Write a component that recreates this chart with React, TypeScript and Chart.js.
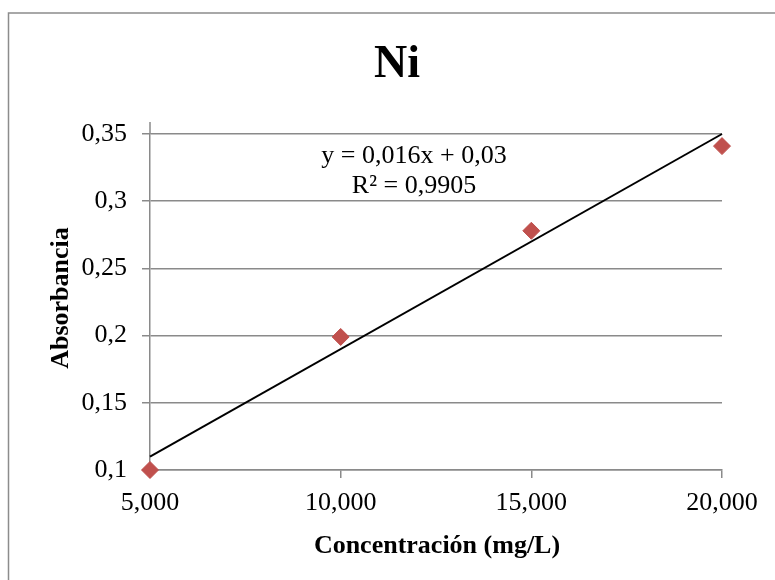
import React, { useEffect, useRef } from "react";
import { Chart, registerables } from "chart.js";

Chart.register(...registerables);

const concentrations = [5, 10, 15, 20];
const absorbances = [0.1, 0.199, 0.278, 0.341];
const trendX = [5, 20];
const trendY = [0.11, 0.35];
const xTickLabels = ["5,000", "10,000", "15,000", "20,000"];
const yTickLabels = ["0,1", "0,15", "0,2", "0,25", "0,3", "0,35"];
const chartTitle = "Ni";
const xTitle = "Concentración (mg/L)";
const yTitle = "Absorbancia";
const equationLines = ["y = 0,016x + 0,03", "R² = 0,9905"];

const FONT = "'Liberation Serif', 'Times New Roman', serif";
const GRID = "#8a8a8a";

const decorations = {
  id: "decorations",
  beforeDraw(chart: any) {
    const { ctx } = chart;
    ctx.save();
    ctx.fillStyle = "#ffffff";
    ctx.fillRect(0, 0, chart.width, chart.height);
    ctx.strokeStyle = "#8c8c8c";
    ctx.lineWidth = 1.5;
    ctx.beginPath();
    ctx.moveTo(8.5, chart.height);
    ctx.lineTo(8.5, 13);
    ctx.lineTo(chart.width, 13);
    ctx.stroke();
    ctx.restore();
  },
  afterDraw(chart: any) {
    const { ctx, chartArea } = chart;
    ctx.save();
    ctx.strokeStyle = GRID;
    ctx.lineWidth = 1.5;
    ctx.beginPath();
    ctx.moveTo(chartArea.left, chartArea.top - 12);
    ctx.lineTo(chartArea.left, chartArea.top);
    ctx.stroke();

    ctx.fillStyle = "#000000";
    ctx.textAlign = "center";
    ctx.textBaseline = "alphabetic";
    ctx.font = `bold 46px ${FONT}`;
    ctx.fillText(chartTitle, 397, 77);

    ctx.font = `bold 26px ${FONT}`;
    ctx.fillText(xTitle, 437, 553);

    ctx.save();
    ctx.translate(68, 298);
    ctx.rotate(-Math.PI / 2);
    ctx.fillText(yTitle, 0, 0);
    ctx.restore();

    ctx.font = `26px ${FONT}`;
    ctx.fillText(equationLines[0], 414, 163);
    ctx.fillText(equationLines[1], 414, 193);
    ctx.restore();
  },
};

export default function App() {
  const canvasRef = useRef<HTMLCanvasElement>(null);

  useEffect(() => {
    if (!canvasRef.current) return;
    const chart = new Chart(canvasRef.current, {
      type: "scatter",
      data: {
        datasets: [
          {
            label: "Trend",
            type: "line",
            data: trendX.map((x, i) => ({ x, y: trendY[i] })),
            borderColor: "#000000",
            borderWidth: 2,
            pointRadius: 0,
            fill: false,
            clip: false,
            order: 2,
          } as any,
          {
            label: "Ni",
            data: concentrations.map((x, i) => ({ x, y: absorbances[i] })),
            backgroundColor: "#C0504D",
            borderColor: "#C0504D",
            pointStyle: "rectRot",
            pointRadius: 8.5,
            pointHoverRadius: 8.5,
            clip: false,
            order: 1,
          } as any,
        ],
      },
      options: {
        animation: false,
        responsive: false,
        events: [],
        layout: { padding: { left: 0, right: 53, top: 134, bottom: 0 } },
        plugins: {
          legend: { display: false },
          title: { display: false },
          tooltip: { enabled: false },
        },
        scales: {
          x: {
            type: "linear",
            min: 5,
            max: 20,
            afterFit: (s: any) => {
              s.height = 110;
            },
            afterBuildTicks: (s: any) => {
              s.ticks = concentrations.map((v) => ({ value: v }));
            },
            border: { color: GRID, width: 1.5 },
            grid: {
              drawOnChartArea: false,
              drawTicks: true,
              tickLength: 8,
              color: GRID,
              lineWidth: 1.5,
            },
            ticks: {
              color: "#000000",
              font: { family: FONT, size: 26 },
              padding: 10,
              maxRotation: 0,
              callback: (_v: any, i: number) => xTickLabels[i],
            },
          },
          y: {
            type: "linear",
            min: 0.1,
            max: 0.35,
            afterFit: (s: any) => {
              s.width = 150;
            },
            afterBuildTicks: (s: any) => {
              s.ticks = yTickLabels.map((_, i) => ({ value: 0.1 + i * 0.05 }));
            },
            border: { color: GRID, width: 1.5 },
            grid: {
              drawTicks: true,
              tickLength: 8,
              color: GRID,
              lineWidth: 1.5,
            },
            ticks: {
              color: "#000000",
              font: { family: FONT, size: 26 },
              padding: 15,
              callback: (_v: any, i: number) => yTickLabels[i],
            },
          },
        },
      },
      plugins: [decorations],
    });
    return () => chart.destroy();
  }, []);

  return (
    <div style={{ position: "fixed", left: 0, top: 0, width: 775, height: 580 }}>
      <canvas ref={canvasRef} width={775} height={580} style={{ display: "block" }} />
    </div>
  );
}
